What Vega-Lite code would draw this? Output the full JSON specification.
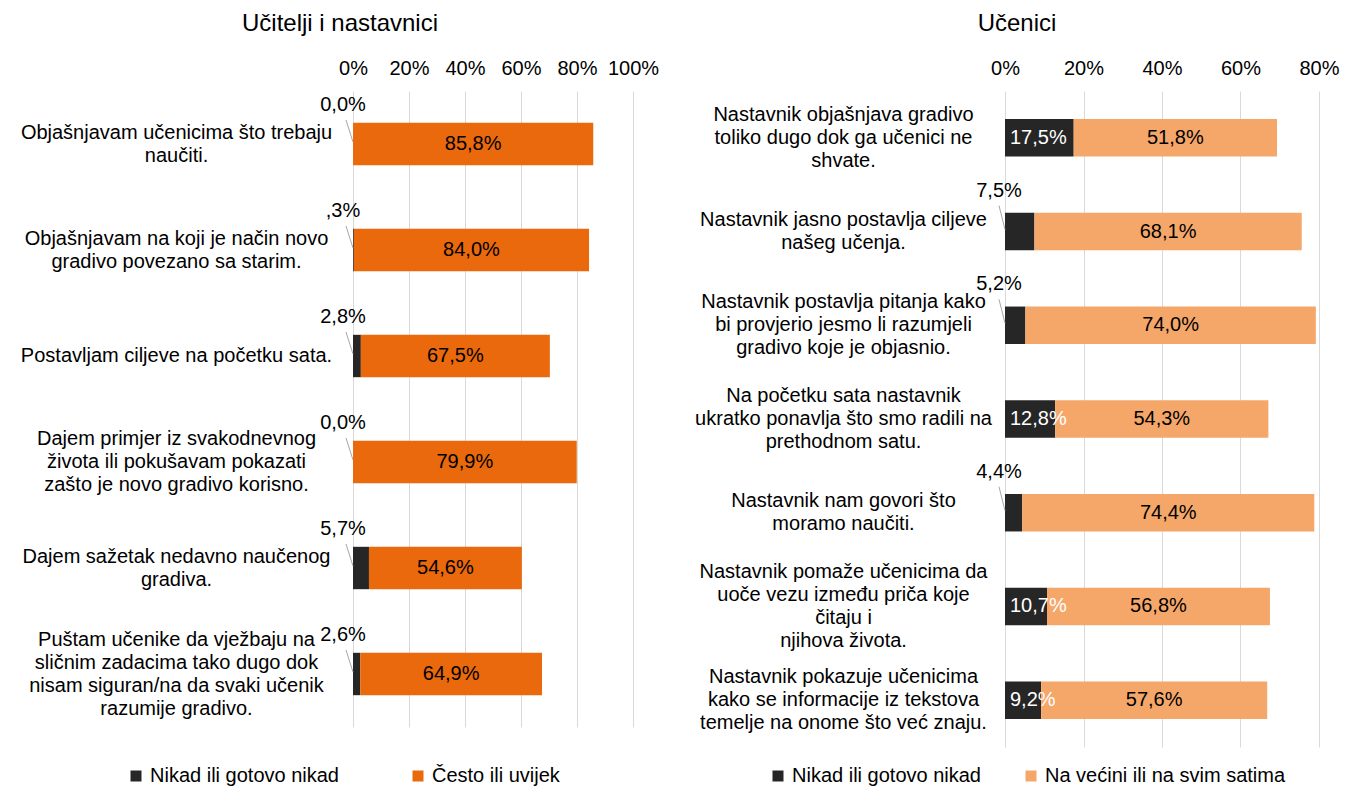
{
  "$schema": "https://vega.github.io/schema/vega-lite/v6.json",
  "autosize": {"type": "none"},
  "padding": {"left": 353, "top": 91, "right": 1002, "bottom": 696},
  "background": "white",
  "bounds": "flush",
  "spacing": 372,
  "config": {
    "font": "Liberation Sans",
    "view": {"stroke": null},
    "axis": {"labelFont": "Liberation Sans", "labelFontSize": 20, "labelColor": "#000000", "ticks": false, "domain": false, "title": null},
    "title": {"font": "Liberation Sans", "fontSize": 24, "fontWeight": "normal", "color": "#000000", "anchor": "middle"},
    "legend": {"orient": "none", "direction": "horizontal", "columns": 2, "title": null, "symbolType": "square", "symbolSize": 121, "symbolStrokeWidth": 0, "symbolOpacity": 1, "labelFont": "Liberation Sans", "labelFontSize": 20, "labelColor": "#000000", "labelOffset": 4, "padding": 0, "labelLimit": 0}
  },
  "datasets": {
    "ucitelji": [
      {"q": "Objašnjavam učenicima što trebaju|naučiti.", "cat": "Nikad ili gotovo nikad", "ord": 1, "v": 0.0, "t": "0,0%"},
      {"q": "Objašnjavam učenicima što trebaju|naučiti.", "cat": "Često ili uvijek", "ord": 2, "v": 0.858, "t": "85,8%"},
      {"q": "Objašnjavam na koji je način novo|gradivo povezano sa starim.", "cat": "Nikad ili gotovo nikad", "ord": 1, "v": 0.003, "t": ",3%"},
      {"q": "Objašnjavam na koji je način novo|gradivo povezano sa starim.", "cat": "Često ili uvijek", "ord": 2, "v": 0.84, "t": "84,0%"},
      {"q": "Postavljam ciljeve na početku sata.", "cat": "Nikad ili gotovo nikad", "ord": 1, "v": 0.028, "t": "2,8%"},
      {"q": "Postavljam ciljeve na početku sata.", "cat": "Često ili uvijek", "ord": 2, "v": 0.675, "t": "67,5%"},
      {"q": "Dajem primjer iz svakodnevnog|života ili pokušavam pokazati|zašto je novo gradivo korisno.", "cat": "Nikad ili gotovo nikad", "ord": 1, "v": 0.0, "t": "0,0%"},
      {"q": "Dajem primjer iz svakodnevnog|života ili pokušavam pokazati|zašto je novo gradivo korisno.", "cat": "Često ili uvijek", "ord": 2, "v": 0.799, "t": "79,9%"},
      {"q": "Dajem sažetak nedavno naučenog|gradiva.", "cat": "Nikad ili gotovo nikad", "ord": 1, "v": 0.057, "t": "5,7%"},
      {"q": "Dajem sažetak nedavno naučenog|gradiva.", "cat": "Često ili uvijek", "ord": 2, "v": 0.546, "t": "54,6%"},
      {"q": "Puštam učenike da vježbaju na|sličnim zadacima tako dugo dok|nisam siguran/na da svaki učenik|razumije gradivo.", "cat": "Nikad ili gotovo nikad", "ord": 1, "v": 0.026, "t": "2,6%"},
      {"q": "Puštam učenike da vježbaju na|sličnim zadacima tako dugo dok|nisam siguran/na da svaki učenik|razumije gradivo.", "cat": "Često ili uvijek", "ord": 2, "v": 0.649, "t": "64,9%"}
    ],
    "ucenici": [
      {"q": "Nastavnik objašnjava gradivo|toliko dugo dok ga učenici ne|shvate.", "cat": "Nikad ili gotovo nikad", "ord": 1, "v": 0.175, "t": "17,5%"},
      {"q": "Nastavnik objašnjava gradivo|toliko dugo dok ga učenici ne|shvate.", "cat": "Na većini ili na svim satima", "ord": 2, "v": 0.518, "t": "51,8%"},
      {"q": "Nastavnik jasno postavlja ciljeve|našeg učenja.", "cat": "Nikad ili gotovo nikad", "ord": 1, "v": 0.075, "t": "7,5%"},
      {"q": "Nastavnik jasno postavlja ciljeve|našeg učenja.", "cat": "Na većini ili na svim satima", "ord": 2, "v": 0.681, "t": "68,1%"},
      {"q": "Nastavnik postavlja pitanja kako|bi provjerio jesmo li razumjeli|gradivo koje je objasnio.", "cat": "Nikad ili gotovo nikad", "ord": 1, "v": 0.052, "t": "5,2%"},
      {"q": "Nastavnik postavlja pitanja kako|bi provjerio jesmo li razumjeli|gradivo koje je objasnio.", "cat": "Na većini ili na svim satima", "ord": 2, "v": 0.74, "t": "74,0%"},
      {"q": "Na početku sata nastavnik|ukratko ponavlja što smo radili na|prethodnom satu.", "cat": "Nikad ili gotovo nikad", "ord": 1, "v": 0.128, "t": "12,8%"},
      {"q": "Na početku sata nastavnik|ukratko ponavlja što smo radili na|prethodnom satu.", "cat": "Na većini ili na svim satima", "ord": 2, "v": 0.543, "t": "54,3%"},
      {"q": "Nastavnik nam govori što|moramo naučiti.", "cat": "Nikad ili gotovo nikad", "ord": 1, "v": 0.044, "t": "4,4%"},
      {"q": "Nastavnik nam govori što|moramo naučiti.", "cat": "Na većini ili na svim satima", "ord": 2, "v": 0.744, "t": "74,4%"},
      {"q": "Nastavnik pomaže učenicima da|uoče vezu između priča koje|čitaju i|njihova života.", "cat": "Nikad ili gotovo nikad", "ord": 1, "v": 0.107, "t": "10,7%"},
      {"q": "Nastavnik pomaže učenicima da|uoče vezu između priča koje|čitaju i|njihova života.", "cat": "Na većini ili na svim satima", "ord": 2, "v": 0.568, "t": "56,8%"},
      {"q": "Nastavnik pokazuje učenicima|kako se informacije iz tekstova|temelje na onome što već znaju.", "cat": "Nikad ili gotovo nikad", "ord": 1, "v": 0.092, "t": "9,2%"},
      {"q": "Nastavnik pokazuje učenicima|kako se informacije iz tekstova|temelje na onome što već znaju.", "cat": "Na većini ili na svim satima", "ord": 2, "v": 0.576, "t": "57,6%"}
    ]
  },
  "hconcat": [
    {
      "width": 280,
      "height": 636,
      "data": {"name": "ucitelji"},
      "title": {"text": "Učitelji i nastavnici", "dx": -153, "offset": 22},
      "encoding": {
        "y": {"field": "q", "type": "nominal", "sort": null,
          "scale": {"paddingInner": 0.6, "paddingOuter": 0.3},
          "axis": {"labelExpr": "split(datum.label, '|')", "labelAlign": "center", "labelBaseline": "middle", "labelPadding": 177, "labelLimit": 0, "labelLineHeight": 23, "grid": false,
            "labelOffset": {"condition": [
              {"test": "length(split(datum.value, '|')) == 2", "value": -11.5},
              {"test": "length(split(datum.value, '|')) == 3", "value": -23},
              {"test": "length(split(datum.value, '|')) == 4", "value": -34.5}
            ], "value": 0}}}
      },
      "layer": [
        {
          "mark": {"type": "bar"},
          "encoding": {
            "x": {"field": "v", "type": "quantitative", "stack": "zero", "scale": {"domain": [0, 1]},
              "axis": {"orient": "top", "format": ".0%", "values": [0, 0.2, 0.4, 0.6, 0.8, 1], "grid": true, "gridColor": "#D9D9D9", "gridWidth": 1, "labelPadding": 13, "labelFlush": false, "labelOverlap": false}},
            "color": {"field": "cat", "type": "nominal",
              "scale": {"domain": ["Nikad ili gotovo nikad", "Često ili uvijek"], "range": ["#262626", "#E9690C"]},
              "legend": {"legendX": -227, "legendY": 675, "columnPadding": 69}},
            "order": {"field": "ord", "type": "quantitative"}
          }
        },
        {
          "transform": [
            {"stack": "v", "groupby": ["q"], "sort": [{"field": "ord", "order": "ascending"}], "as": ["v0", "v1"]},
            {"filter": "datum.ord == 2"},
            {"calculate": "(datum.v0 + datum.v1) / 2", "as": "mid"}
          ],
          "mark": {"type": "text", "fontSize": 20, "color": "#000000", "align": "center", "baseline": "middle"},
          "encoding": {
            "x": {"field": "mid", "type": "quantitative"},
            "text": {"field": "t"}
          }
        },
        {
          "transform": [{"filter": "datum.ord == 1"}],
          "mark": {"type": "rule", "color": "#A6A6A6", "strokeWidth": 1, "yOffset": -2, "y2Offset": -24, "x2Offset": -7},
          "encoding": {
            "x": {"datum": 0, "type": "quantitative"},
            "x2": {"datum": 0},
            "y2": {"field": "q"}
          }
        },
        {
          "transform": [{"filter": "datum.ord == 1"}],
          "mark": {"type": "text", "fontSize": 20, "color": "#000000", "align": "center", "baseline": "middle", "dx": -10, "dy": -39},
          "encoding": {
            "x": {"datum": 0, "type": "quantitative"},
            "text": {"field": "t"}
          }
        }
      ]
    },
    {
      "width": 314,
      "height": 656,
      "data": {"name": "ucenici"},
      "title": {"text": "Učenici", "dx": -145, "offset": 22},
      "encoding": {
        "y": {"field": "q", "type": "nominal", "sort": null,
          "scale": {"paddingInner": 0.6, "paddingOuter": 0.3},
          "axis": {"labelExpr": "split(datum.label, '|')", "labelAlign": "center", "labelBaseline": "middle", "labelPadding": 162, "labelLimit": 0, "labelLineHeight": 23, "grid": false,
            "labelOffset": {"condition": [
              {"test": "length(split(datum.value, '|')) == 2", "value": -11.5},
              {"test": "length(split(datum.value, '|')) == 3", "value": -23},
              {"test": "length(split(datum.value, '|')) == 4", "value": -34.5}
            ], "value": 0}}}
      },
      "layer": [
        {
          "mark": {"type": "bar"},
          "encoding": {
            "x": {"field": "v", "type": "quantitative", "stack": "zero", "scale": {"domain": [0, 0.8]},
              "axis": {"orient": "top", "format": ".0%", "values": [0, 0.2, 0.4, 0.6, 0.8], "grid": true, "gridColor": "#D9D9D9", "gridWidth": 1, "labelPadding": 13, "labelFlush": false, "labelOverlap": false}},
            "color": {"field": "cat", "type": "nominal",
              "scale": {"domain": ["Nikad ili gotovo nikad", "Na većini ili na svim satima"], "range": ["#262626", "#F5A76A"]},
              "legend": {"legendX": -237, "legendY": 675, "columnPadding": 40}},
            "order": {"field": "ord", "type": "quantitative"}
          }
        },
        {
          "transform": [
            {"stack": "v", "groupby": ["q"], "sort": [{"field": "ord", "order": "ascending"}], "as": ["v0", "v1"]},
            {"filter": "datum.ord == 2"},
            {"calculate": "(datum.v0 + datum.v1) / 2", "as": "mid"}
          ],
          "mark": {"type": "text", "fontSize": 20, "color": "#000000", "align": "center", "baseline": "middle"},
          "encoding": {
            "x": {"field": "mid", "type": "quantitative"},
            "text": {"field": "t"}
          }
        },
        {
          "transform": [{"filter": "datum.ord == 1 && datum.v >= 0.08"}],
          "mark": {"type": "text", "fontSize": 20, "color": "#FFFFFF", "align": "left", "baseline": "middle", "dx": 5},
          "encoding": {
            "x": {"datum": 0, "type": "quantitative"},
            "text": {"field": "t"}
          }
        },
        {
          "transform": [{"filter": "datum.ord == 1 && datum.v < 0.08"}],
          "mark": {"type": "rule", "color": "#A6A6A6", "strokeWidth": 1, "yOffset": -2, "y2Offset": -26, "x2Offset": -6},
          "encoding": {
            "x": {"datum": 0, "type": "quantitative"},
            "x2": {"datum": 0},
            "y2": {"field": "q"}
          }
        },
        {
          "transform": [{"filter": "datum.ord == 1 && datum.v < 0.08"}],
          "mark": {"type": "text", "fontSize": 20, "color": "#000000", "align": "center", "baseline": "middle", "dx": -6, "dy": -41},
          "encoding": {
            "x": {"datum": 0, "type": "quantitative"},
            "text": {"field": "t"}
          }
        }
      ]
    }
  ],
  "resolve": {
    "scale": {"color": "independent", "x": "independent", "y": "independent"},
    "legend": {"color": "independent"}
  }
}
